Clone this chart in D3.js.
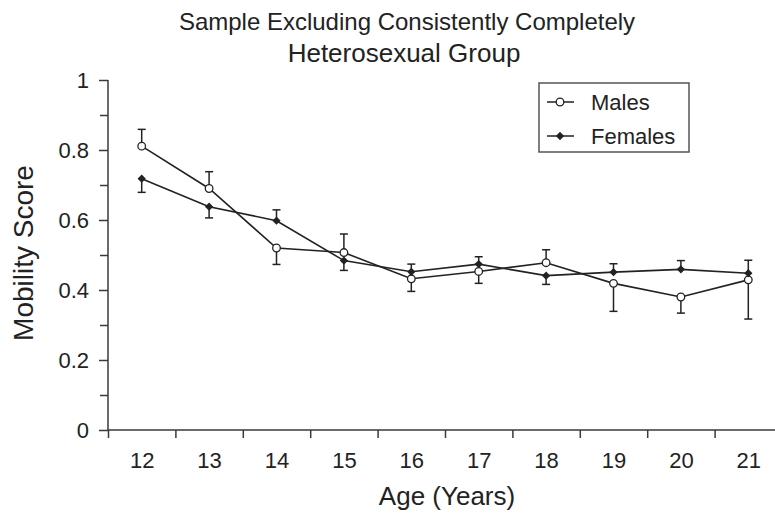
<!DOCTYPE html>
<html>
<head>
<meta charset="utf-8">
<script src="https://cdn.jsdelivr.net/npm/d3@7"></script>
<style>
  html, body { margin: 0; padding: 0; background: #fff; }
  svg { display: block; font-family: 'Liberation Sans', Arial, Helvetica, sans-serif; }
</style>
</head>
<body>
<svg id="chart" width="775" height="522"></svg>
<script>
// values
const ages = [12, 13, 14, 15, 16, 17, 18, 19, 20, 21]
const males = [0.811, 0.690, 0.520, 0.507, 0.432, 0.453, 0.478, 0.419, 0.380, 0.429]
const malesErr = [0.048, 0.048, 0.047, 0.053, 0.036, 0.034, 0.037, 0.080, 0.046, 0.112]
const malesErrDir = [1, 1, -1, 1, -1, -1, 1, -1, -1, -1]
const females = [0.718, 0.638, 0.598, 0.484, 0.452, 0.474, 0.441, 0.451, 0.459, 0.448]
const femalesErr = [0.039, 0.032, 0.031, 0.028, 0.022, 0.021, 0.025, 0.024, 0.025, 0.037]
const femalesErrDir = [-1, -1, 1, -1, 1, 1, -1, 1, 1, 1]
const yMajorTicks = [0, 0.2, 0.4, 0.6, 0.8, 1]
const yMinorTicks = [0.1, 0.3, 0.5, 0.7, 0.9]
const titleLines = ['Sample Excluding Consistently Completely', 'Heterosexual Group']

const ink = '#222'
const axisInk = '#3a3a3a'
const svg = d3.select('#chart')

const x = d3.scaleLinear().domain([11.5, 21.5]).range([108, 782])
const y = d3.scaleLinear().domain([0, 1]).range([430, 80])

// title (second line is set a little larger in the original)
svg.append('g')
  .selectAll('text')
  .data(titleLines)
  .enter()
  .append('text')
  .attr('x', (d, i) => i === 0 ? 407 : 404)
  .attr('y', (d, i) => i === 0 ? 30 : 62)
  .attr('text-anchor', 'middle')
  .attr('font-size', (d, i) => i === 0 ? '24px' : '26px')
  .attr('fill', ink)
  .text(d => d)

// x axis: tick marks at category boundaries, labels at category centres
const xTicks = svg.append('g')
  .attr('transform', `translate(0, ${y(0)})`)
  .call(d3.axisBottom(x)
    .tickValues(ages.map(a => a - 0.5))
    .tickSize(8)
    .tickFormat(''))
xTicks.select('.domain').remove()

svg.append('line')
  .attr('x1', x(11.5))
  .attr('x2', x(21.5))
  .attr('y1', y(0))
  .attr('y2', y(0))
  .attr('stroke', axisInk)
  .attr('stroke-width', 1.5)

const xLabels = svg.append('g')
  .attr('transform', `translate(0, ${y(0)})`)
  .call(d3.axisBottom(x)
    .tickValues(ages)
    .tickSize(0)
    .tickPadding(22)
    .tickFormat(d3.format('d')))
xLabels.select('.domain').remove()

// y axis
const yMinor = svg.append('g')
  .attr('transform', `translate(${x(11.5)}, 0)`)
  .call(d3.axisLeft(y).tickValues(yMinorTicks).tickSize(8).tickFormat(''))
yMinor.select('.domain').remove()

const yMajor = svg.append('g')
  .attr('transform', `translate(${x(11.5)}, 0)`)
  .call(d3.axisLeft(y)
    .tickValues(yMajorTicks)
    .tickSize(9)
    .tickPadding(10)
    .tickFormat(d => d === 0 || d === 1 ? d3.format('d')(d) : d3.format('.1f')(d)))
yMajor.select('.domain')
  .attr('d', `M0,${y(0)}V${y(1)}`)

svg.selectAll('.tick line, .domain')
  .attr('stroke', axisInk)
  .attr('stroke-width', 1.5)
xLabels.selectAll('.tick text')
  .attr('font-size', '22px')
  .attr('fill', ink)
yMajor.selectAll('.tick text')
  .attr('font-size', '22px')
  .attr('fill', ink)
svg.selectAll('g.tick').select('text').filter(function() { return !this.textContent }).remove()
svg.selectAll('g').attr('font-family', null).attr('font-size', null)

// axis titles
svg.append('text')
  .attr('x', 447)
  .attr('y', 505)
  .attr('text-anchor', 'middle')
  .attr('font-size', '26px')
  .attr('fill', ink)
  .text('Age (Years)')

svg.append('text')
  .attr('transform', `translate(33, ${(y(0) + y(1)) / 2 - 2}) rotate(-90)`)
  .attr('text-anchor', 'middle')
  .attr('font-size', '28px')
  .attr('fill', ink)
  .text('Mobility Score')

// series
const series = [
  { name: 'Males', values: males, err: malesErr, dir: malesErrDir, marker: 'circle' },
  { name: 'Females', values: females, err: femalesErr, dir: femalesErrDir, marker: 'diamond' }
]

const line = d3.line()
  .x(d => x(d.age))
  .y(d => y(d.value))

const plot = svg.append('g').attr('class', 'plot')

series.forEach(s => {
  const pts = ages.map((age, i) => ({ age, value: s.values[i], err: s.err[i], dir: s.dir[i] }))
  const g = plot.append('g').attr('class', `series-${s.name}`)

  // one-sided error bars
  const bars = g.selectAll('g.err')
    .data(pts)
    .enter()
    .append('g')
    .attr('class', 'err')
  bars.append('line')
    .attr('x1', d => x(d.age))
    .attr('x2', d => x(d.age))
    .attr('y1', d => y(d.value))
    .attr('y2', d => y(d.value + d.dir * d.err))
    .attr('stroke', ink)
    .attr('stroke-width', 1.5)
  bars.append('line')
    .attr('x1', d => x(d.age) - 4)
    .attr('x2', d => x(d.age) + 4)
    .attr('y1', d => y(d.value + d.dir * d.err))
    .attr('y2', d => y(d.value + d.dir * d.err))
    .attr('stroke', ink)
    .attr('stroke-width', 1.5)

  g.append('path')
    .datum(pts)
    .attr('d', line)
    .attr('fill', 'none')
    .attr('stroke', ink)
    .attr('stroke-width', 1.6)
})

// markers on top
series.forEach(s => {
  const pts = ages.map((age, i) => ({ age, value: s.values[i] }))
  drawMarkers(plot, pts.map(d => [x(d.age), y(d.value)]), s.marker)
})

function drawMarkers(sel, coords, marker) {
  if (marker === 'circle') {
    sel.append('g').selectAll('circle')
      .data(coords)
      .enter()
      .append('circle')
      .attr('cx', d => d[0])
      .attr('cy', d => d[1])
      .attr('r', 3.8)
      .attr('fill', '#fff')
      .attr('stroke', ink)
      .attr('stroke-width', 1.3)
  } else {
    sel.append('g').selectAll('path')
      .data(coords)
      .enter()
      .append('path')
      .attr('d', d3.symbol().type(d3.symbolDiamond2).size(44))
      .attr('transform', d => `translate(${d[0]}, ${d[1]})`)
      .attr('fill', ink)
  }
}

// legend
const legend = svg.append('g')
  .attr('class', 'legend')
  .attr('transform', 'translate(539, 83)')
legend.append('rect')
  .attr('width', 150)
  .attr('height', 69)
  .attr('fill', '#fff')
  .attr('stroke', '#555')
  .attr('stroke-width', 1.5)

series.forEach((s, i) => {
  const row = legend.append('g')
    .attr('transform', `translate(0, ${19 + i * 34})`)
  row.append('line')
    .attr('x1', 8)
    .attr('x2', 35)
    .attr('stroke', ink)
    .attr('stroke-width', 1.5)
  drawMarkers(row, [[21, 0]], s.marker)
  row.append('text')
    .attr('x', 52)
    .attr('y', 0)
    .attr('dy', '0.35em')
    .attr('font-size', '22px')
    .attr('fill', ink)
    .text(s.name)
})
</script>
</body>
</html>
